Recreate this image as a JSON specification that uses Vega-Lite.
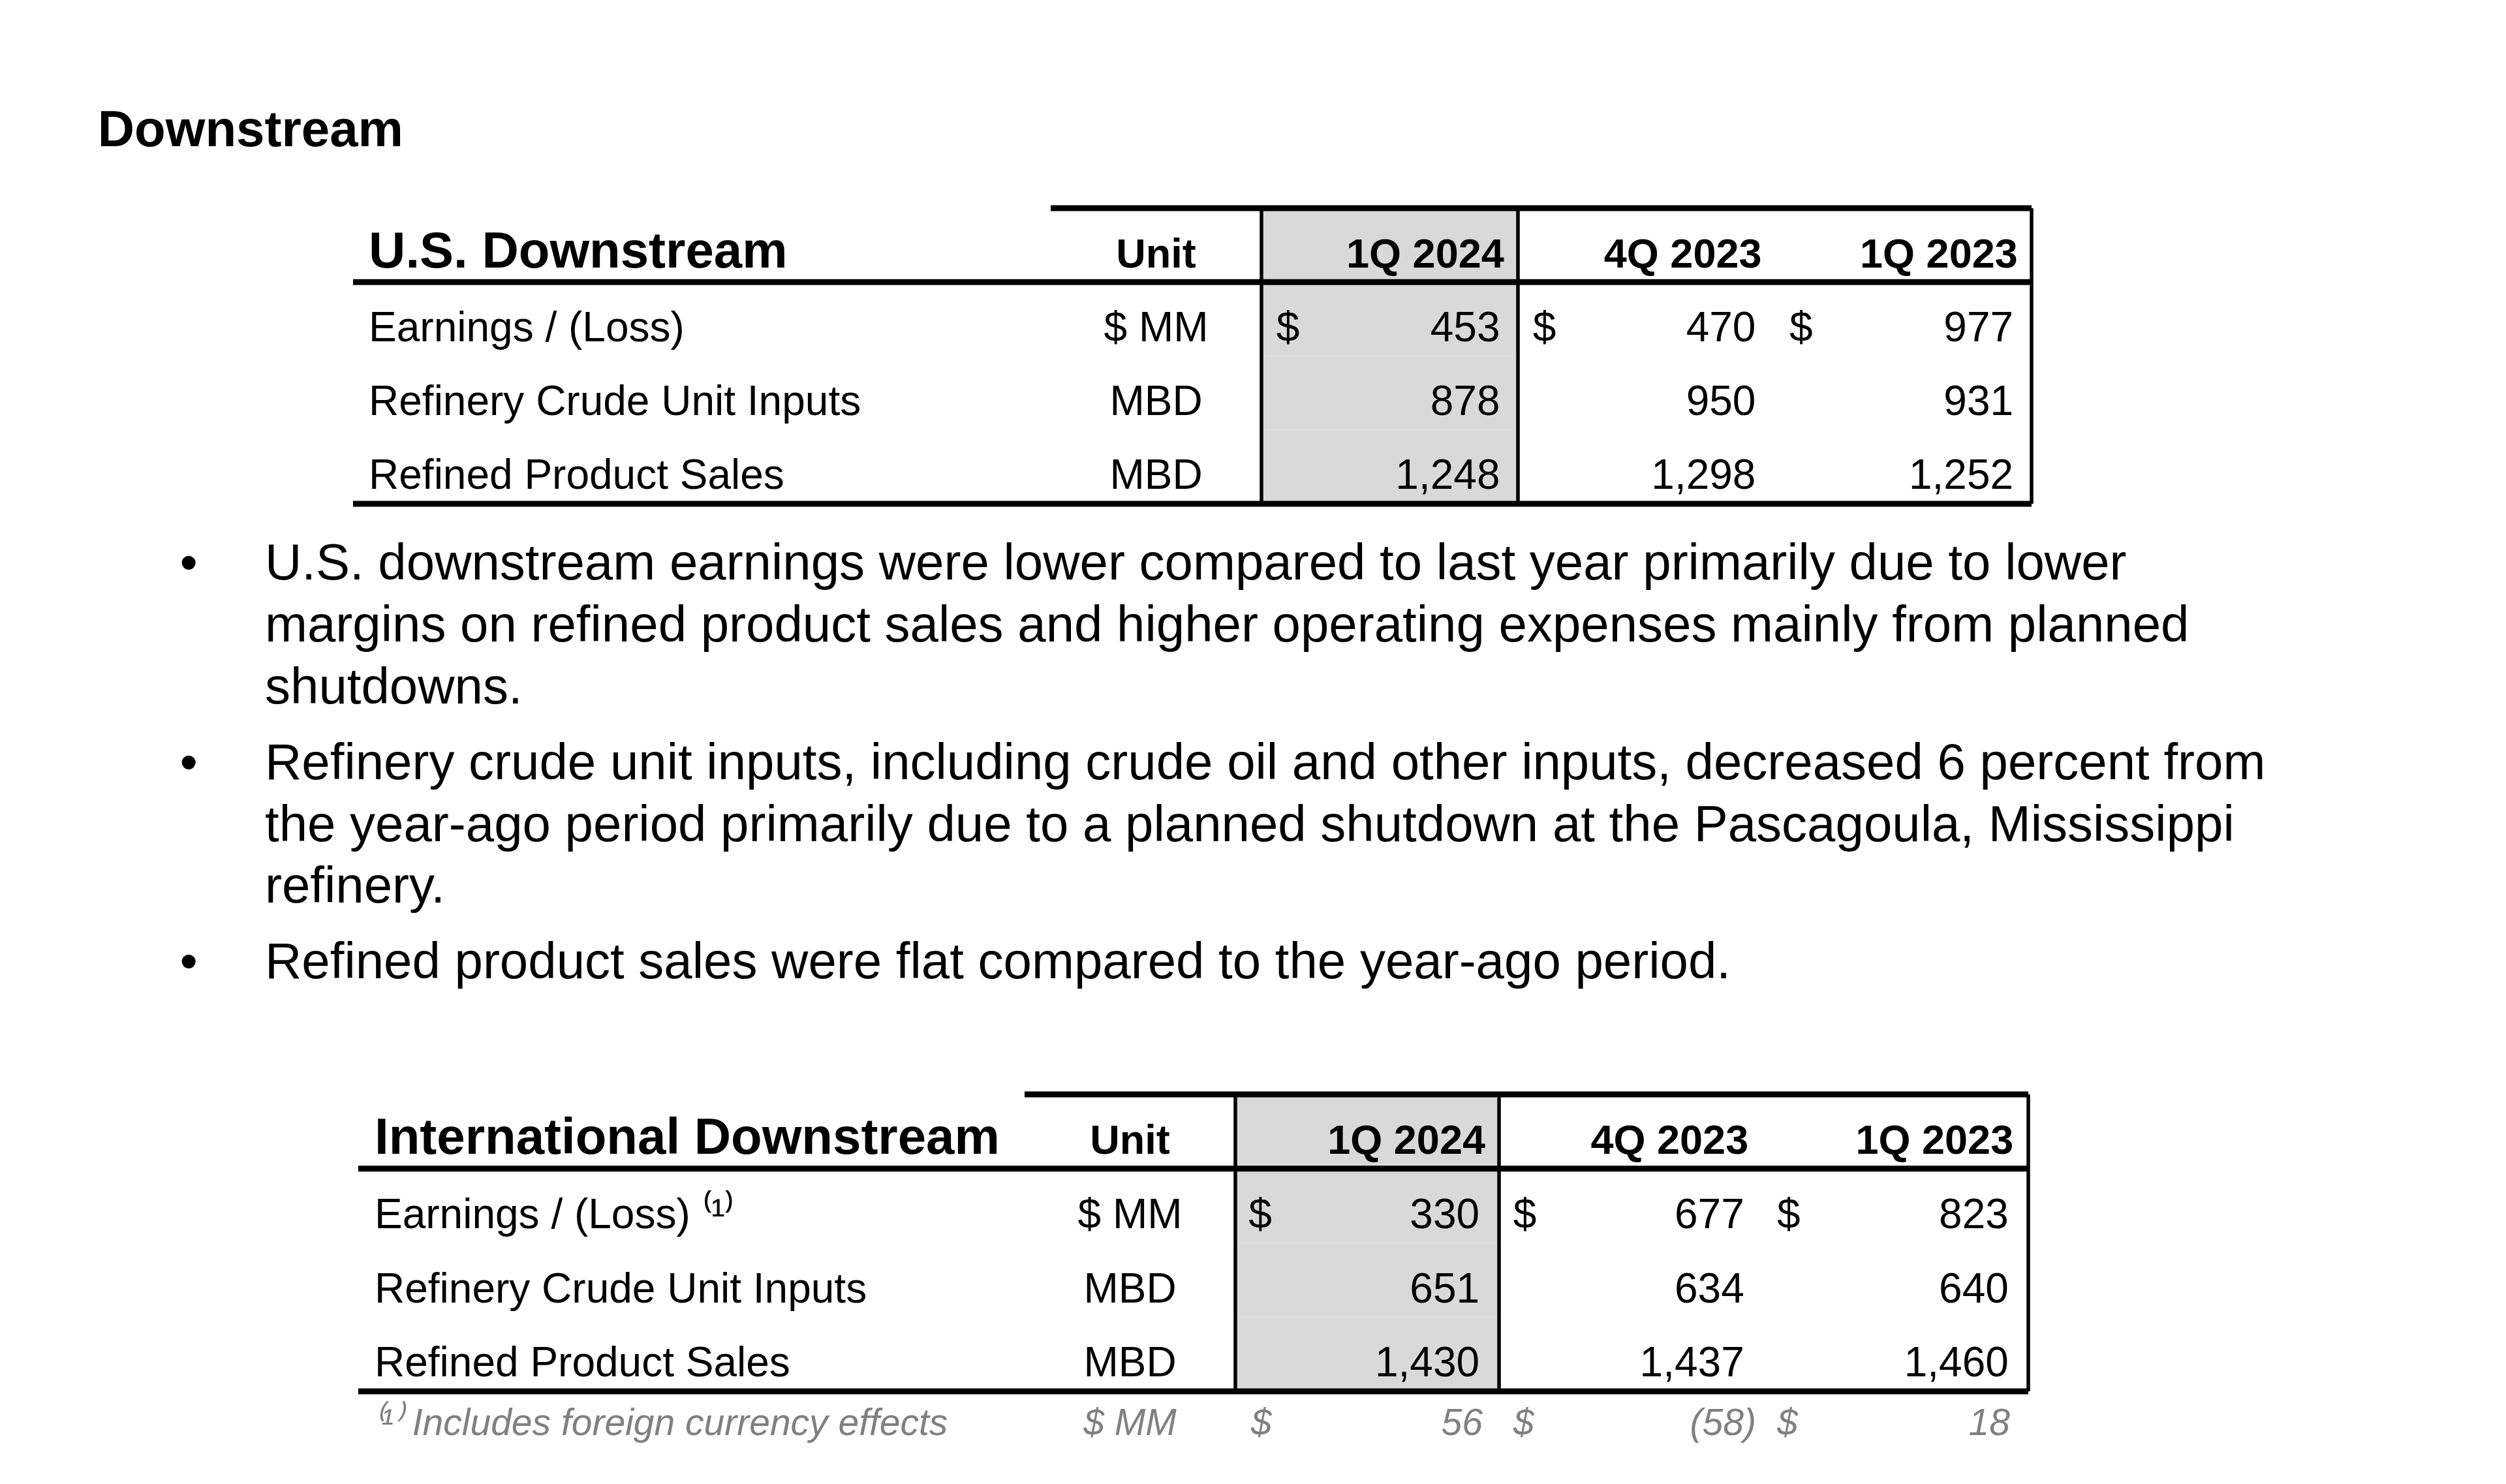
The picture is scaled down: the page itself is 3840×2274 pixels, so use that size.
{
"$schema":"https://vega.github.io/schema/vega-lite/v6.json",
"padding":0,
"background":"#ffffff",
"spacing":0,
"bounds":"full",
"config":{"view":{"stroke":null},"text":{"font":"Liberation Sans","baseline":"alphabetic","color":"#000000"},"rule":{"color":"#000000"}},
"datasets":{
 "page":[{"section":"Downstream"}],
 "us":[
  {"table":"US","kind":"header","row":"U.S. Downstream","unit":"Unit","p1":"1Q 2024","p2":"4Q 2023","p3":"1Q 2023"},
  {"table":"US","kind":"data","row":"Earnings / (Loss)","unit":"$ MM","cur":"$","v1":453,"v2":470,"v3":977},
  {"table":"US","kind":"data","row":"Refinery Crude Unit Inputs","unit":"MBD","v1":878,"v2":950,"v3":931},
  {"table":"US","kind":"data","row":"Refined Product Sales","unit":"MBD","v1":1248,"v2":1298,"v3":1252}
 ],
 "intl":[
  {"table":"International","kind":"header","row":"International Downstream","unit":"Unit","p1":"1Q 2024","p2":"4Q 2023","p3":"1Q 2023"},
  {"table":"International","kind":"data","row":"Earnings / (Loss) ⁽¹⁾","unit":"$ MM","cur":"$","v1":330,"v2":677,"v3":823},
  {"table":"International","kind":"data","row":"Refinery Crude Unit Inputs","unit":"MBD","v1":651,"v2":634,"v3":640},
  {"table":"International","kind":"data","row":"Refined Product Sales","unit":"MBD","v1":1430,"v2":1437,"v3":1460},
  {"table":"International","kind":"note","row":"⁽¹⁾ Includes foreign currency effects","unit":"$ MM","cur":"$","v1":56,"v2":-58,"v3":18}
 ],
 "bullets":[
  {"section":"U.S. Downstream","bullet":1,"line":1,"text":"U.S. downstream earnings were lower compared to last year primarily due to lower"},
  {"section":"U.S. Downstream","bullet":1,"line":2,"text":"margins on refined product sales and higher operating expenses mainly from planned"},
  {"section":"U.S. Downstream","bullet":1,"line":3,"text":"shutdowns."},
  {"section":"U.S. Downstream","bullet":2,"line":1,"text":"Refinery crude unit inputs, including crude oil and other inputs, decreased 6 percent from"},
  {"section":"U.S. Downstream","bullet":2,"line":2,"text":"the year-ago period primarily due to a planned shutdown at the Pascagoula, Mississippi"},
  {"section":"U.S. Downstream","bullet":2,"line":3,"text":"refinery."},
  {"section":"U.S. Downstream","bullet":3,"line":1,"text":"Refined product sales were flat compared to the year-ago period."}
 ]
},
"vconcat":[
 {"width":3840,"height":313.5,"data":{"name":"page"},
  "mark":{"type":"text","align":"left","fontSize":78,"fontWeight":"bold"},
  "encoding":{
   "x":{"field":"section","type":"nominal","axis":null,"bandPosition":0.039,"scale":{"type":"band","paddingInner":0,"paddingOuter":0}},
   "y":{"field":"section","type":"nominal","axis":null,"bandPosition":0.7145,"scale":{"type":"band","paddingInner":0,"paddingOuter":0}},
   "text":{"field":"section"}}},
 {"spacing":0,"bounds":"flush","hconcat":[
  {"width":541,"height":453,"data":{"values":[]},"mark":"text","encoding":{}},
  {"width":1069,"height":453,"data":{"name":"us"},"layer":[
   {"transform":[{"filter":"datum.kind === 'header'"}],"mark":{"type":"text","align":"left","fontSize":78,"fontWeight":"bold"},
    "encoding":{"x":{"field":"table","type":"nominal","axis":null,"bandPosition":0.0225,"scale":{"type":"band","paddingInner":0,"paddingOuter":0}},
     "y":{"field":"row","type":"nominal","axis":null,"bandPosition":0.8,"scale":{"type":"band","domain":["U.S. Downstream","Earnings / (Loss)","Refinery Crude Unit Inputs","Refined Product Sales"],"paddingInner":0,"paddingOuter":0}},
     "text":{"field":"row"}}},
   {"transform":[{"filter":"datum.kind === 'data'"}],"mark":{"type":"text","align":"left","fontSize":64},
    "encoding":{"x":{"field":"table","type":"nominal","axis":null,"bandPosition":0.0225,"scale":{"type":"band","paddingInner":0,"paddingOuter":0}},
     "y":{"field":"row","type":"nominal","axis":null,"bandPosition":0.8,"scale":{"type":"band","domain":["U.S. Downstream","Earnings / (Loss)","Refinery Crude Unit Inputs","Refined Product Sales"],"paddingInner":0,"paddingOuter":0}},
     "text":{"field":"row"}}},
   {"transform":[{"filter":"datum.kind === 'header'"}],"mark":{"type":"rule","strokeWidth":9},
    "encoding":{"y":{"field":"row","type":"nominal","axis":null,"bandPosition":1,"scale":{"type":"band","domain":["U.S. Downstream","Earnings / (Loss)","Refinery Crude Unit Inputs","Refined Product Sales"],"paddingInner":0,"paddingOuter":0}}}},
   {"transform":[{"filter":"datum.row === 'Refined Product Sales'"}],"mark":{"type":"rule","strokeWidth":9},
    "encoding":{"y":{"field":"row","type":"nominal","axis":null,"bandPosition":1,"scale":{"type":"band","domain":["U.S. Downstream","Earnings / (Loss)","Refinery Crude Unit Inputs","Refined Product Sales"],"paddingInner":0,"paddingOuter":0}}}}
  ]},
  {"width":323,"height":453,"data":{"name":"us"},"layer":[
   {"transform":[{"filter":"datum.kind === 'header'"}],"mark":{"type":"text","align":"center","fontSize":63,"fontWeight":"bold"},
    "encoding":{"x":{"field":"table","type":"nominal","axis":null,"bandPosition":0.5,"scale":{"type":"band","paddingInner":0,"paddingOuter":0}},
     "y":{"field":"row","type":"nominal","axis":null,"bandPosition":0.8,"scale":{"type":"band","domain":["U.S. Downstream","Earnings / (Loss)","Refinery Crude Unit Inputs","Refined Product Sales"],"paddingInner":0,"paddingOuter":0}},
     "text":{"field":"unit"}}},
   {"transform":[{"filter":"datum.kind === 'data'"}],"mark":{"type":"text","align":"center","fontSize":64},
    "encoding":{"x":{"field":"table","type":"nominal","axis":null,"bandPosition":0.5,"scale":{"type":"band","paddingInner":0,"paddingOuter":0}},
     "y":{"field":"row","type":"nominal","axis":null,"bandPosition":0.8,"scale":{"type":"band","domain":["U.S. Downstream","Earnings / (Loss)","Refinery Crude Unit Inputs","Refined Product Sales"],"paddingInner":0,"paddingOuter":0}},
     "text":{"field":"unit"}}},
   {"transform":[{"filter":"datum.kind === 'header'"}],"mark":{"type":"rule","strokeWidth":9},
    "encoding":{"y":{"field":"row","type":"nominal","axis":null,"bandPosition":0,"scale":{"type":"band","domain":["U.S. Downstream","Earnings / (Loss)","Refinery Crude Unit Inputs","Refined Product Sales"],"paddingInner":0,"paddingOuter":0}}}},
   {"transform":[{"filter":"datum.kind === 'header'"}],"mark":{"type":"rule","strokeWidth":9},
    "encoding":{"y":{"field":"row","type":"nominal","axis":null,"bandPosition":1,"scale":{"type":"band","domain":["U.S. Downstream","Earnings / (Loss)","Refinery Crude Unit Inputs","Refined Product Sales"],"paddingInner":0,"paddingOuter":0}}}},
   {"transform":[{"filter":"datum.row === 'Refined Product Sales'"}],"mark":{"type":"rule","strokeWidth":9},
    "encoding":{"y":{"field":"row","type":"nominal","axis":null,"bandPosition":1,"scale":{"type":"band","domain":["U.S. Downstream","Earnings / (Loss)","Refinery Crude Unit Inputs","Refined Product Sales"],"paddingInner":0,"paddingOuter":0}}}}
  ]},
  {"width":393,"height":453,"data":{"name":"us"},"layer":[
   {"mark":{"type":"rect","color":"#d9d9d9"},
    "encoding":{"x":{"field":"table","type":"nominal","axis":null,"scale":{"type":"band","paddingInner":0,"paddingOuter":0}},
     "y":{"field":"row","type":"nominal","axis":null,"scale":{"type":"band","domain":["U.S. Downstream","Earnings / (Loss)","Refinery Crude Unit Inputs","Refined Product Sales"],"paddingInner":0,"paddingOuter":0}}}},
   {"transform":[{"filter":"datum.kind === 'header'"}],"mark":{"type":"text","align":"right","fontSize":63,"fontWeight":"bold"},
    "encoding":{"x":{"field":"table","type":"nominal","axis":null,"bandPosition":0.946,"scale":{"type":"band","paddingInner":0,"paddingOuter":0}},
     "y":{"field":"row","type":"nominal","axis":null,"bandPosition":0.8,"scale":{"type":"band","domain":["U.S. Downstream","Earnings / (Loss)","Refinery Crude Unit Inputs","Refined Product Sales"],"paddingInner":0,"paddingOuter":0}},
     "text":{"field":"p1"}}},
   {"transform":[{"filter":"datum.kind === 'data'"}],"mark":{"type":"text","align":"right","fontSize":64},
    "encoding":{"x":{"field":"table","type":"nominal","axis":null,"bandPosition":0.93,"scale":{"type":"band","paddingInner":0,"paddingOuter":0}},
     "y":{"field":"row","type":"nominal","axis":null,"bandPosition":0.8,"scale":{"type":"band","domain":["U.S. Downstream","Earnings / (Loss)","Refinery Crude Unit Inputs","Refined Product Sales"],"paddingInner":0,"paddingOuter":0}},
     "text":{"field":"v1","type":"quantitative","format":","}}},
   {"transform":[{"filter":"datum.cur"}],"mark":{"type":"text","align":"left","fontSize":64},
    "encoding":{"x":{"field":"table","type":"nominal","axis":null,"bandPosition":0.058,"scale":{"type":"band","paddingInner":0,"paddingOuter":0}},
     "y":{"field":"row","type":"nominal","axis":null,"bandPosition":0.8,"scale":{"type":"band","domain":["U.S. Downstream","Earnings / (Loss)","Refinery Crude Unit Inputs","Refined Product Sales"],"paddingInner":0,"paddingOuter":0}},
     "text":{"field":"cur"}}},
   {"transform":[{"filter":"datum.kind === 'header'"}],"mark":{"type":"rule","strokeWidth":9},
    "encoding":{"y":{"field":"row","type":"nominal","axis":null,"bandPosition":0,"scale":{"type":"band","domain":["U.S. Downstream","Earnings / (Loss)","Refinery Crude Unit Inputs","Refined Product Sales"],"paddingInner":0,"paddingOuter":0}}}},
   {"transform":[{"filter":"datum.kind === 'header'"}],"mark":{"type":"rule","strokeWidth":9},
    "encoding":{"y":{"field":"row","type":"nominal","axis":null,"bandPosition":1,"scale":{"type":"band","domain":["U.S. Downstream","Earnings / (Loss)","Refinery Crude Unit Inputs","Refined Product Sales"],"paddingInner":0,"paddingOuter":0}}}},
   {"transform":[{"filter":"datum.row === 'Refined Product Sales'"}],"mark":{"type":"rule","strokeWidth":9},
    "encoding":{"y":{"field":"row","type":"nominal","axis":null,"bandPosition":1,"scale":{"type":"band","domain":["U.S. Downstream","Earnings / (Loss)","Refinery Crude Unit Inputs","Refined Product Sales"],"paddingInner":0,"paddingOuter":0}}}},
   {"transform":[{"filter":"datum.kind === 'header'"}],"mark":{"type":"rule","strokeWidth":5.5},
    "encoding":{"x":{"field":"table","type":"nominal","axis":null,"bandPosition":0,"scale":{"type":"band","paddingInner":0,"paddingOuter":0}}}},
   {"transform":[{"filter":"datum.kind === 'header'"}],"mark":{"type":"rule","strokeWidth":5.5},
    "encoding":{"x":{"field":"table","type":"nominal","axis":null,"bandPosition":1,"scale":{"type":"band","paddingInner":0,"paddingOuter":0}}}}
  ]},
  {"width":394,"height":453,"data":{"name":"us"},"layer":[
   {"transform":[{"filter":"datum.kind === 'header'"}],"mark":{"type":"text","align":"right","fontSize":63,"fontWeight":"bold"},
    "encoding":{"x":{"field":"table","type":"nominal","axis":null,"bandPosition":0.948,"scale":{"type":"band","paddingInner":0,"paddingOuter":0}},
     "y":{"field":"row","type":"nominal","axis":null,"bandPosition":0.8,"scale":{"type":"band","domain":["U.S. Downstream","Earnings / (Loss)","Refinery Crude Unit Inputs","Refined Product Sales"],"paddingInner":0,"paddingOuter":0}},
     "text":{"field":"p2"}}},
   {"transform":[{"filter":"datum.kind === 'data'"}],"mark":{"type":"text","align":"right","fontSize":64},
    "encoding":{"x":{"field":"table","type":"nominal","axis":null,"bandPosition":0.925,"scale":{"type":"band","paddingInner":0,"paddingOuter":0}},
     "y":{"field":"row","type":"nominal","axis":null,"bandPosition":0.8,"scale":{"type":"band","domain":["U.S. Downstream","Earnings / (Loss)","Refinery Crude Unit Inputs","Refined Product Sales"],"paddingInner":0,"paddingOuter":0}},
     "text":{"field":"v2","type":"quantitative","format":","}}},
   {"transform":[{"filter":"datum.cur"}],"mark":{"type":"text","align":"left","fontSize":64},
    "encoding":{"x":{"field":"table","type":"nominal","axis":null,"bandPosition":0.058,"scale":{"type":"band","paddingInner":0,"paddingOuter":0}},
     "y":{"field":"row","type":"nominal","axis":null,"bandPosition":0.8,"scale":{"type":"band","domain":["U.S. Downstream","Earnings / (Loss)","Refinery Crude Unit Inputs","Refined Product Sales"],"paddingInner":0,"paddingOuter":0}},
     "text":{"field":"cur"}}},
   {"transform":[{"filter":"datum.kind === 'header'"}],"mark":{"type":"rule","strokeWidth":9},
    "encoding":{"y":{"field":"row","type":"nominal","axis":null,"bandPosition":0,"scale":{"type":"band","domain":["U.S. Downstream","Earnings / (Loss)","Refinery Crude Unit Inputs","Refined Product Sales"],"paddingInner":0,"paddingOuter":0}}}},
   {"transform":[{"filter":"datum.kind === 'header'"}],"mark":{"type":"rule","strokeWidth":9},
    "encoding":{"y":{"field":"row","type":"nominal","axis":null,"bandPosition":1,"scale":{"type":"band","domain":["U.S. Downstream","Earnings / (Loss)","Refinery Crude Unit Inputs","Refined Product Sales"],"paddingInner":0,"paddingOuter":0}}}},
   {"transform":[{"filter":"datum.row === 'Refined Product Sales'"}],"mark":{"type":"rule","strokeWidth":9},
    "encoding":{"y":{"field":"row","type":"nominal","axis":null,"bandPosition":1,"scale":{"type":"band","domain":["U.S. Downstream","Earnings / (Loss)","Refinery Crude Unit Inputs","Refined Product Sales"],"paddingInner":0,"paddingOuter":0}}}}
  ]},
  {"width":393,"height":453,"data":{"name":"us"},"layer":[
   {"transform":[{"filter":"datum.kind === 'header'"}],"mark":{"type":"text","align":"right","fontSize":63,"fontWeight":"bold"},
    "encoding":{"x":{"field":"table","type":"nominal","axis":null,"bandPosition":0.946,"scale":{"type":"band","paddingInner":0,"paddingOuter":0}},
     "y":{"field":"row","type":"nominal","axis":null,"bandPosition":0.8,"scale":{"type":"band","domain":["U.S. Downstream","Earnings / (Loss)","Refinery Crude Unit Inputs","Refined Product Sales"],"paddingInner":0,"paddingOuter":0}},
     "text":{"field":"p3"}}},
   {"transform":[{"filter":"datum.kind === 'data'"}],"mark":{"type":"text","align":"right","fontSize":64},
    "encoding":{"x":{"field":"table","type":"nominal","axis":null,"bandPosition":0.929,"scale":{"type":"band","paddingInner":0,"paddingOuter":0}},
     "y":{"field":"row","type":"nominal","axis":null,"bandPosition":0.8,"scale":{"type":"band","domain":["U.S. Downstream","Earnings / (Loss)","Refinery Crude Unit Inputs","Refined Product Sales"],"paddingInner":0,"paddingOuter":0}},
     "text":{"field":"v3","type":"quantitative","format":","}}},
   {"transform":[{"filter":"datum.cur"}],"mark":{"type":"text","align":"left","fontSize":64},
    "encoding":{"x":{"field":"table","type":"nominal","axis":null,"bandPosition":0.056,"scale":{"type":"band","paddingInner":0,"paddingOuter":0}},
     "y":{"field":"row","type":"nominal","axis":null,"bandPosition":0.8,"scale":{"type":"band","domain":["U.S. Downstream","Earnings / (Loss)","Refinery Crude Unit Inputs","Refined Product Sales"],"paddingInner":0,"paddingOuter":0}},
     "text":{"field":"cur"}}},
   {"transform":[{"filter":"datum.kind === 'header'"}],"mark":{"type":"rule","strokeWidth":9},
    "encoding":{"y":{"field":"row","type":"nominal","axis":null,"bandPosition":0,"scale":{"type":"band","domain":["U.S. Downstream","Earnings / (Loss)","Refinery Crude Unit Inputs","Refined Product Sales"],"paddingInner":0,"paddingOuter":0}}}},
   {"transform":[{"filter":"datum.kind === 'header'"}],"mark":{"type":"rule","strokeWidth":9},
    "encoding":{"y":{"field":"row","type":"nominal","axis":null,"bandPosition":1,"scale":{"type":"band","domain":["U.S. Downstream","Earnings / (Loss)","Refinery Crude Unit Inputs","Refined Product Sales"],"paddingInner":0,"paddingOuter":0}}}},
   {"transform":[{"filter":"datum.row === 'Refined Product Sales'"}],"mark":{"type":"rule","strokeWidth":9},
    "encoding":{"y":{"field":"row","type":"nominal","axis":null,"bandPosition":1,"scale":{"type":"band","domain":["U.S. Downstream","Earnings / (Loss)","Refinery Crude Unit Inputs","Refined Product Sales"],"paddingInner":0,"paddingOuter":0}}}},
   {"transform":[{"filter":"datum.kind === 'header'"}],"mark":{"type":"rule","strokeWidth":5.5},
    "encoding":{"x":{"field":"table","type":"nominal","axis":null,"bandPosition":1,"scale":{"type":"band","paddingInner":0,"paddingOuter":0}}}}
  ]}
 ]},
 {"spacing":0,"bounds":"flush","hconcat":[
  {"width":406,"height":895,"data":{"name":"bullets"},"transform":[{"filter":"datum.line === 1"}],
   "mark":{"type":"text","align":"center","fontSize":78,"dy":64},
   "encoding":{
    "x":{"field":"section","type":"nominal","axis":null,"bandPosition":0.712,"scale":{"type":"band","paddingInner":0,"paddingOuter":0}},
    "y":{"field":"bullet","type":"ordinal","axis":null,"scale":{"type":"band","domain":[1,2,3],"paddingInner":0.0656,"paddingOuter":0,"align":0}},
    "yOffset":{"field":"line","type":"ordinal","scale":{"type":"band","domain":[1,2,3],"paddingInner":0,"paddingOuter":0}},
    "text":{"value":"•"}}},
  {"width":3434,"height":895,"data":{"name":"bullets"},
   "mark":{"type":"text","align":"left","fontSize":78,"dy":64},
   "encoding":{
    "x":{"field":"section","type":"nominal","axis":null,"bandPosition":0,"scale":{"type":"band","paddingInner":0,"paddingOuter":0}},
    "y":{"field":"bullet","type":"ordinal","axis":null,"scale":{"type":"band","domain":[1,2,3],"paddingInner":0.0656,"paddingOuter":0,"align":0}},
    "yOffset":{"field":"line","type":"ordinal","scale":{"type":"band","domain":[1,2,3],"paddingInner":0,"paddingOuter":0}},
    "text":{"field":"text"}}}
 ]},
 {"spacing":0,"bounds":"flush","hconcat":[
  {"width":549,"height":455,"data":{"values":[]},"mark":"text","encoding":{}},
  {"width":1021,"height":455,"data":{"name":"intl"},"layer":[
   {"transform":[{"filter":"datum.kind === 'header'"}],"mark":{"type":"text","align":"left","fontSize":78,"fontWeight":"bold"},
    "encoding":{"x":{"field":"table","type":"nominal","axis":null,"bandPosition":0.0245,"scale":{"type":"band","paddingInner":0,"paddingOuter":0}},
     "y":{"field":"row","type":"nominal","axis":null,"bandPosition":0.8,"scale":{"type":"band","domain":["International Downstream","Earnings / (Loss) ⁽¹⁾","Refinery Crude Unit Inputs","Refined Product Sales"],"paddingInner":0,"paddingOuter":0}},
     "text":{"field":"row"}}},
   {"transform":[{"filter":"datum.kind === 'data'"}],"mark":{"type":"text","align":"left","fontSize":64},
    "encoding":{"x":{"field":"table","type":"nominal","axis":null,"bandPosition":0.0245,"scale":{"type":"band","paddingInner":0,"paddingOuter":0}},
     "y":{"field":"row","type":"nominal","axis":null,"bandPosition":0.8,"scale":{"type":"band","domain":["International Downstream","Earnings / (Loss) ⁽¹⁾","Refinery Crude Unit Inputs","Refined Product Sales"],"paddingInner":0,"paddingOuter":0}},
     "text":{"field":"row"}}},
   {"transform":[{"filter":"datum.kind === 'header'"}],"mark":{"type":"rule","strokeWidth":9},
    "encoding":{"y":{"field":"row","type":"nominal","axis":null,"bandPosition":1,"scale":{"type":"band","domain":["International Downstream","Earnings / (Loss) ⁽¹⁾","Refinery Crude Unit Inputs","Refined Product Sales"],"paddingInner":0,"paddingOuter":0}}}},
   {"transform":[{"filter":"datum.row === 'Refined Product Sales'"}],"mark":{"type":"rule","strokeWidth":9},
    "encoding":{"y":{"field":"row","type":"nominal","axis":null,"bandPosition":1,"scale":{"type":"band","domain":["International Downstream","Earnings / (Loss) ⁽¹⁾","Refinery Crude Unit Inputs","Refined Product Sales"],"paddingInner":0,"paddingOuter":0}}}}
  ]},
  {"width":323,"height":455,"data":{"name":"intl"},"layer":[
   {"transform":[{"filter":"datum.kind === 'header'"}],"mark":{"type":"text","align":"center","fontSize":63,"fontWeight":"bold"},
    "encoding":{"x":{"field":"table","type":"nominal","axis":null,"bandPosition":0.5,"scale":{"type":"band","paddingInner":0,"paddingOuter":0}},
     "y":{"field":"row","type":"nominal","axis":null,"bandPosition":0.8,"scale":{"type":"band","domain":["International Downstream","Earnings / (Loss) ⁽¹⁾","Refinery Crude Unit Inputs","Refined Product Sales"],"paddingInner":0,"paddingOuter":0}},
     "text":{"field":"unit"}}},
   {"transform":[{"filter":"datum.kind === 'data'"}],"mark":{"type":"text","align":"center","fontSize":64},
    "encoding":{"x":{"field":"table","type":"nominal","axis":null,"bandPosition":0.5,"scale":{"type":"band","paddingInner":0,"paddingOuter":0}},
     "y":{"field":"row","type":"nominal","axis":null,"bandPosition":0.8,"scale":{"type":"band","domain":["International Downstream","Earnings / (Loss) ⁽¹⁾","Refinery Crude Unit Inputs","Refined Product Sales"],"paddingInner":0,"paddingOuter":0}},
     "text":{"field":"unit"}}},
   {"transform":[{"filter":"datum.kind === 'header'"}],"mark":{"type":"rule","strokeWidth":9},
    "encoding":{"y":{"field":"row","type":"nominal","axis":null,"bandPosition":0,"scale":{"type":"band","domain":["International Downstream","Earnings / (Loss) ⁽¹⁾","Refinery Crude Unit Inputs","Refined Product Sales"],"paddingInner":0,"paddingOuter":0}}}},
   {"transform":[{"filter":"datum.kind === 'header'"}],"mark":{"type":"rule","strokeWidth":9},
    "encoding":{"y":{"field":"row","type":"nominal","axis":null,"bandPosition":1,"scale":{"type":"band","domain":["International Downstream","Earnings / (Loss) ⁽¹⁾","Refinery Crude Unit Inputs","Refined Product Sales"],"paddingInner":0,"paddingOuter":0}}}},
   {"transform":[{"filter":"datum.row === 'Refined Product Sales'"}],"mark":{"type":"rule","strokeWidth":9},
    "encoding":{"y":{"field":"row","type":"nominal","axis":null,"bandPosition":1,"scale":{"type":"band","domain":["International Downstream","Earnings / (Loss) ⁽¹⁾","Refinery Crude Unit Inputs","Refined Product Sales"],"paddingInner":0,"paddingOuter":0}}}}
  ]},
  {"width":404,"height":455,"data":{"name":"intl"},"layer":[
   {"transform":[{"filter":"datum.kind !== 'note'"}],"mark":{"type":"rect","color":"#d9d9d9"},
    "encoding":{"x":{"field":"table","type":"nominal","axis":null,"scale":{"type":"band","paddingInner":0,"paddingOuter":0}},
     "y":{"field":"row","type":"nominal","axis":null,"scale":{"type":"band","domain":["International Downstream","Earnings / (Loss) ⁽¹⁾","Refinery Crude Unit Inputs","Refined Product Sales"],"paddingInner":0,"paddingOuter":0}}}},
   {"transform":[{"filter":"datum.kind === 'header'"}],"mark":{"type":"text","align":"right","fontSize":63,"fontWeight":"bold"},
    "encoding":{"x":{"field":"table","type":"nominal","axis":null,"bandPosition":0.948,"scale":{"type":"band","paddingInner":0,"paddingOuter":0}},
     "y":{"field":"row","type":"nominal","axis":null,"bandPosition":0.8,"scale":{"type":"band","domain":["International Downstream","Earnings / (Loss) ⁽¹⁾","Refinery Crude Unit Inputs","Refined Product Sales"],"paddingInner":0,"paddingOuter":0}},
     "text":{"field":"p1"}}},
   {"transform":[{"filter":"datum.kind === 'data'"}],"mark":{"type":"text","align":"right","fontSize":64},
    "encoding":{"x":{"field":"table","type":"nominal","axis":null,"bandPosition":0.926,"scale":{"type":"band","paddingInner":0,"paddingOuter":0}},
     "y":{"field":"row","type":"nominal","axis":null,"bandPosition":0.8,"scale":{"type":"band","domain":["International Downstream","Earnings / (Loss) ⁽¹⁾","Refinery Crude Unit Inputs","Refined Product Sales"],"paddingInner":0,"paddingOuter":0}},
     "text":{"field":"v1","type":"quantitative","format":","}}},
   {"transform":[{"filter":"datum.kind === 'data' && datum.cur"}],"mark":{"type":"text","align":"left","fontSize":64},
    "encoding":{"x":{"field":"table","type":"nominal","axis":null,"bandPosition":0.05,"scale":{"type":"band","paddingInner":0,"paddingOuter":0}},
     "y":{"field":"row","type":"nominal","axis":null,"bandPosition":0.8,"scale":{"type":"band","domain":["International Downstream","Earnings / (Loss) ⁽¹⁾","Refinery Crude Unit Inputs","Refined Product Sales"],"paddingInner":0,"paddingOuter":0}},
     "text":{"field":"cur"}}},
   {"transform":[{"filter":"datum.kind === 'header'"}],"mark":{"type":"rule","strokeWidth":9},
    "encoding":{"y":{"field":"row","type":"nominal","axis":null,"bandPosition":0,"scale":{"type":"band","domain":["International Downstream","Earnings / (Loss) ⁽¹⁾","Refinery Crude Unit Inputs","Refined Product Sales"],"paddingInner":0,"paddingOuter":0}}}},
   {"transform":[{"filter":"datum.kind === 'header'"}],"mark":{"type":"rule","strokeWidth":9},
    "encoding":{"y":{"field":"row","type":"nominal","axis":null,"bandPosition":1,"scale":{"type":"band","domain":["International Downstream","Earnings / (Loss) ⁽¹⁾","Refinery Crude Unit Inputs","Refined Product Sales"],"paddingInner":0,"paddingOuter":0}}}},
   {"transform":[{"filter":"datum.row === 'Refined Product Sales'"}],"mark":{"type":"rule","strokeWidth":9},
    "encoding":{"y":{"field":"row","type":"nominal","axis":null,"bandPosition":1,"scale":{"type":"band","domain":["International Downstream","Earnings / (Loss) ⁽¹⁾","Refinery Crude Unit Inputs","Refined Product Sales"],"paddingInner":0,"paddingOuter":0}}}},
   {"transform":[{"filter":"datum.kind === 'header'"}],"mark":{"type":"rule","strokeWidth":5.5},
    "encoding":{"x":{"field":"table","type":"nominal","axis":null,"bandPosition":0,"scale":{"type":"band","paddingInner":0,"paddingOuter":0}}}},
   {"transform":[{"filter":"datum.kind === 'header'"}],"mark":{"type":"rule","strokeWidth":5.5},
    "encoding":{"x":{"field":"table","type":"nominal","axis":null,"bandPosition":1,"scale":{"type":"band","paddingInner":0,"paddingOuter":0}}}}
  ]},
  {"width":404,"height":455,"data":{"name":"intl"},"layer":[
   {"transform":[{"filter":"datum.kind === 'header'"}],"mark":{"type":"text","align":"right","fontSize":63,"fontWeight":"bold"},
    "encoding":{"x":{"field":"table","type":"nominal","axis":null,"bandPosition":0.946,"scale":{"type":"band","paddingInner":0,"paddingOuter":0}},
     "y":{"field":"row","type":"nominal","axis":null,"bandPosition":0.8,"scale":{"type":"band","domain":["International Downstream","Earnings / (Loss) ⁽¹⁾","Refinery Crude Unit Inputs","Refined Product Sales"],"paddingInner":0,"paddingOuter":0}},
     "text":{"field":"p2"}}},
   {"transform":[{"filter":"datum.kind === 'data'"}],"mark":{"type":"text","align":"right","fontSize":64},
    "encoding":{"x":{"field":"table","type":"nominal","axis":null,"bandPosition":0.93,"scale":{"type":"band","paddingInner":0,"paddingOuter":0}},
     "y":{"field":"row","type":"nominal","axis":null,"bandPosition":0.8,"scale":{"type":"band","domain":["International Downstream","Earnings / (Loss) ⁽¹⁾","Refinery Crude Unit Inputs","Refined Product Sales"],"paddingInner":0,"paddingOuter":0}},
     "text":{"field":"v2","type":"quantitative","format":","}}},
   {"transform":[{"filter":"datum.kind === 'data' && datum.cur"}],"mark":{"type":"text","align":"left","fontSize":64},
    "encoding":{"x":{"field":"table","type":"nominal","axis":null,"bandPosition":0.054,"scale":{"type":"band","paddingInner":0,"paddingOuter":0}},
     "y":{"field":"row","type":"nominal","axis":null,"bandPosition":0.8,"scale":{"type":"band","domain":["International Downstream","Earnings / (Loss) ⁽¹⁾","Refinery Crude Unit Inputs","Refined Product Sales"],"paddingInner":0,"paddingOuter":0}},
     "text":{"field":"cur"}}},
   {"transform":[{"filter":"datum.kind === 'header'"}],"mark":{"type":"rule","strokeWidth":9},
    "encoding":{"y":{"field":"row","type":"nominal","axis":null,"bandPosition":0,"scale":{"type":"band","domain":["International Downstream","Earnings / (Loss) ⁽¹⁾","Refinery Crude Unit Inputs","Refined Product Sales"],"paddingInner":0,"paddingOuter":0}}}},
   {"transform":[{"filter":"datum.kind === 'header'"}],"mark":{"type":"rule","strokeWidth":9},
    "encoding":{"y":{"field":"row","type":"nominal","axis":null,"bandPosition":1,"scale":{"type":"band","domain":["International Downstream","Earnings / (Loss) ⁽¹⁾","Refinery Crude Unit Inputs","Refined Product Sales"],"paddingInner":0,"paddingOuter":0}}}},
   {"transform":[{"filter":"datum.row === 'Refined Product Sales'"}],"mark":{"type":"rule","strokeWidth":9},
    "encoding":{"y":{"field":"row","type":"nominal","axis":null,"bandPosition":1,"scale":{"type":"band","domain":["International Downstream","Earnings / (Loss) ⁽¹⁾","Refinery Crude Unit Inputs","Refined Product Sales"],"paddingInner":0,"paddingOuter":0}}}}
  ]},
  {"width":407,"height":455,"data":{"name":"intl"},"layer":[
   {"transform":[{"filter":"datum.kind === 'header'"}],"mark":{"type":"text","align":"right","fontSize":63,"fontWeight":"bold"},
    "encoding":{"x":{"field":"table","type":"nominal","axis":null,"bandPosition":0.944,"scale":{"type":"band","paddingInner":0,"paddingOuter":0}},
     "y":{"field":"row","type":"nominal","axis":null,"bandPosition":0.8,"scale":{"type":"band","domain":["International Downstream","Earnings / (Loss) ⁽¹⁾","Refinery Crude Unit Inputs","Refined Product Sales"],"paddingInner":0,"paddingOuter":0}},
     "text":{"field":"p3"}}},
   {"transform":[{"filter":"datum.kind === 'data'"}],"mark":{"type":"text","align":"right","fontSize":64},
    "encoding":{"x":{"field":"table","type":"nominal","axis":null,"bandPosition":0.926,"scale":{"type":"band","paddingInner":0,"paddingOuter":0}},
     "y":{"field":"row","type":"nominal","axis":null,"bandPosition":0.8,"scale":{"type":"band","domain":["International Downstream","Earnings / (Loss) ⁽¹⁾","Refinery Crude Unit Inputs","Refined Product Sales"],"paddingInner":0,"paddingOuter":0}},
     "text":{"field":"v3","type":"quantitative","format":","}}},
   {"transform":[{"filter":"datum.kind === 'data' && datum.cur"}],"mark":{"type":"text","align":"left","fontSize":64},
    "encoding":{"x":{"field":"table","type":"nominal","axis":null,"bandPosition":0.054,"scale":{"type":"band","paddingInner":0,"paddingOuter":0}},
     "y":{"field":"row","type":"nominal","axis":null,"bandPosition":0.8,"scale":{"type":"band","domain":["International Downstream","Earnings / (Loss) ⁽¹⁾","Refinery Crude Unit Inputs","Refined Product Sales"],"paddingInner":0,"paddingOuter":0}},
     "text":{"field":"cur"}}},
   {"transform":[{"filter":"datum.kind === 'header'"}],"mark":{"type":"rule","strokeWidth":9},
    "encoding":{"y":{"field":"row","type":"nominal","axis":null,"bandPosition":0,"scale":{"type":"band","domain":["International Downstream","Earnings / (Loss) ⁽¹⁾","Refinery Crude Unit Inputs","Refined Product Sales"],"paddingInner":0,"paddingOuter":0}}}},
   {"transform":[{"filter":"datum.kind === 'header'"}],"mark":{"type":"rule","strokeWidth":9},
    "encoding":{"y":{"field":"row","type":"nominal","axis":null,"bandPosition":1,"scale":{"type":"band","domain":["International Downstream","Earnings / (Loss) ⁽¹⁾","Refinery Crude Unit Inputs","Refined Product Sales"],"paddingInner":0,"paddingOuter":0}}}},
   {"transform":[{"filter":"datum.row === 'Refined Product Sales'"}],"mark":{"type":"rule","strokeWidth":9},
    "encoding":{"y":{"field":"row","type":"nominal","axis":null,"bandPosition":1,"scale":{"type":"band","domain":["International Downstream","Earnings / (Loss) ⁽¹⁾","Refinery Crude Unit Inputs","Refined Product Sales"],"paddingInner":0,"paddingOuter":0}}}},
   {"transform":[{"filter":"datum.kind === 'header'"}],"mark":{"type":"rule","strokeWidth":5.5},
    "encoding":{"x":{"field":"table","type":"nominal","axis":null,"bandPosition":1,"scale":{"type":"band","paddingInner":0,"paddingOuter":0}}}}
  ]}
 ]},
 {"spacing":0,"bounds":"flush","hconcat":[
  {"width":549,"height":139.5,"data":{"values":[]},"mark":"text","encoding":{}},
  {"width":1021,"height":139.5,"data":{"name":"intl"},"transform":[{"filter":"datum.kind === 'note'"}],
   "mark":{"type":"text","align":"left","fontSize":57,"fontStyle":"italic","color":"#808080"},
   "encoding":{"x":{"field":"table","type":"nominal","axis":null,"bandPosition":0.0215,"scale":{"type":"band","paddingInner":0,"paddingOuter":0}},
    "y":{"field":"row","type":"nominal","axis":null,"bandPosition":0.441,"scale":{"type":"band","paddingInner":0,"paddingOuter":0}},
    "text":{"field":"row"}}},
  {"width":323,"height":139.5,"data":{"name":"intl"},"transform":[{"filter":"datum.kind === 'note'"}],
   "mark":{"type":"text","align":"center","fontSize":57,"fontStyle":"italic","color":"#808080"},
   "encoding":{"x":{"field":"table","type":"nominal","axis":null,"bandPosition":0.5,"scale":{"type":"band","paddingInner":0,"paddingOuter":0}},
    "y":{"field":"row","type":"nominal","axis":null,"bandPosition":0.441,"scale":{"type":"band","paddingInner":0,"paddingOuter":0}},
    "text":{"field":"unit"}}},
  {"width":404,"height":139.5,"data":{"name":"intl"},"transform":[{"filter":"datum.kind === 'note'"}],"layer":[
   {"mark":{"type":"text","align":"left","fontSize":57,"fontStyle":"italic","color":"#808080"},
    "encoding":{"x":{"field":"table","type":"nominal","axis":null,"bandPosition":0.059,"scale":{"type":"band","paddingInner":0,"paddingOuter":0}},
     "y":{"field":"row","type":"nominal","axis":null,"bandPosition":0.441,"scale":{"type":"band","paddingInner":0,"paddingOuter":0}},
     "text":{"field":"cur"}}},
   {"mark":{"type":"text","align":"right","fontSize":57,"fontStyle":"italic","color":"#808080"},
    "encoding":{"x":{"field":"table","type":"nominal","axis":null,"bandPosition":0.938,"scale":{"type":"band","paddingInner":0,"paddingOuter":0}},
     "y":{"field":"row","type":"nominal","axis":null,"bandPosition":0.441,"scale":{"type":"band","paddingInner":0,"paddingOuter":0}},
     "text":{"field":"v1","type":"quantitative","format":"(,"}}}
  ]},
  {"width":404,"height":139.5,"data":{"name":"intl"},"transform":[{"filter":"datum.kind === 'note'"}],"layer":[
   {"mark":{"type":"text","align":"left","fontSize":57,"fontStyle":"italic","color":"#808080"},
    "encoding":{"x":{"field":"table","type":"nominal","axis":null,"bandPosition":0.054,"scale":{"type":"band","paddingInner":0,"paddingOuter":0}},
     "y":{"field":"row","type":"nominal","axis":null,"bandPosition":0.441,"scale":{"type":"band","paddingInner":0,"paddingOuter":0}},
     "text":{"field":"cur"}}},
   {"mark":{"type":"text","align":"right","fontSize":57,"fontStyle":"italic","color":"#808080"},
    "encoding":{"x":{"field":"table","type":"nominal","axis":null,"bandPosition":0.975,"scale":{"type":"band","paddingInner":0,"paddingOuter":0}},
     "y":{"field":"row","type":"nominal","axis":null,"bandPosition":0.441,"scale":{"type":"band","paddingInner":0,"paddingOuter":0}},
     "text":{"field":"v2","type":"quantitative","format":"(,"}}}
  ]},
  {"width":407,"height":139.5,"data":{"name":"intl"},"transform":[{"filter":"datum.kind === 'note'"}],"layer":[
   {"mark":{"type":"text","align":"left","fontSize":57,"fontStyle":"italic","color":"#808080"},
    "encoding":{"x":{"field":"table","type":"nominal","axis":null,"bandPosition":0.054,"scale":{"type":"band","paddingInner":0,"paddingOuter":0}},
     "y":{"field":"row","type":"nominal","axis":null,"bandPosition":0.441,"scale":{"type":"band","paddingInner":0,"paddingOuter":0}},
     "text":{"field":"cur"}}},
   {"mark":{"type":"text","align":"right","fontSize":57,"fontStyle":"italic","color":"#808080"},
    "encoding":{"x":{"field":"table","type":"nominal","axis":null,"bandPosition":0.931,"scale":{"type":"band","paddingInner":0,"paddingOuter":0}},
     "y":{"field":"row","type":"nominal","axis":null,"bandPosition":0.441,"scale":{"type":"band","paddingInner":0,"paddingOuter":0}},
     "text":{"field":"v3","type":"quantitative","format":"(,"}}}
  ]}
 ]}
]
}
